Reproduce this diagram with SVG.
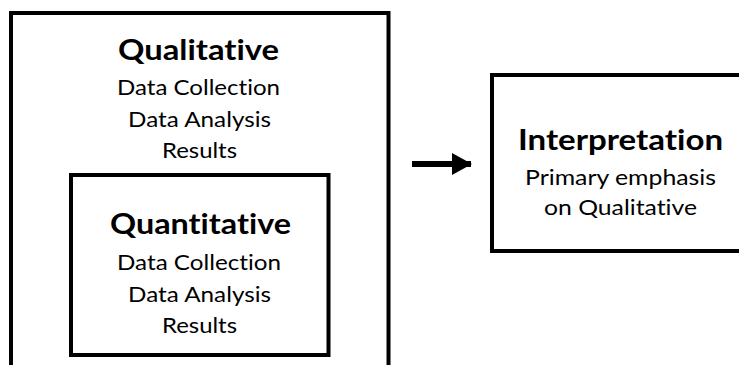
<svg xmlns="http://www.w3.org/2000/svg" width="739" height="365" viewBox="0 0 739 365">
<style>
.box{fill:#fff;stroke:#000;stroke-width:4}
.t{font-family:Lato,"Open Sans","Liberation Sans",sans-serif;fill:#000;text-anchor:middle;font-variant-ligatures:none;font-feature-settings:"liga" 0}
.h{font-size:28px;font-weight:bold}
.b{font-size:21.5px}
</style>
<defs>
<marker id="ah" markerUnits="userSpaceOnUse" markerWidth="20" markerHeight="22" refX="19" refY="11" orient="auto">
<path d="M0,0 L20,11 L0,22 Z" fill="#000"/>
</marker>
</defs>
<rect width="739" height="365" fill="#fff"/>
<g id="qualitative">
<rect class="box" x="11" y="13" width="377.5" height="400" stroke-width="4.5"/>
<text class="t h" x="198.5" y="60" textLength="161" lengthAdjust="spacingAndGlyphs">Qualitative</text>
<text class="t b" x="198.5" y="94.5" textLength="163" lengthAdjust="spacingAndGlyphs">Data Collection</text>
<text class="t b" x="199.5" y="126.5" textLength="143" lengthAdjust="spacingAndGlyphs">Data Analysis</text>
<text class="t b" x="199.5" y="157.5" textLength="75" lengthAdjust="spacingAndGlyphs">Results</text>
</g>
<g id="quantitative">
<rect class="box" x="71" y="175" width="257.5" height="180"/>
<text class="t h" x="200.5" y="234" textLength="181" lengthAdjust="spacingAndGlyphs">Quantitative</text>
<text class="t b" x="199" y="270" textLength="164" lengthAdjust="spacingAndGlyphs">Data Collection</text>
<text class="t b" x="199.5" y="302" textLength="143" lengthAdjust="spacingAndGlyphs">Data Analysis</text>
<text class="t b" x="199.5" y="333" textLength="75" lengthAdjust="spacingAndGlyphs">Results</text>
</g>
<g id="interpretation">
<rect class="box" x="492" y="75" width="300" height="176"/>
<text class="t h" x="620.5" y="150" textLength="205" lengthAdjust="spacingAndGlyphs">Interpretation</text>
<text class="t b" x="620.5" y="185" textLength="191" lengthAdjust="spacingAndGlyphs">Primary emphasis</text>
<text class="t b" x="620.5" y="215" textLength="153" lengthAdjust="spacingAndGlyphs">on Qualitative</text>
</g>
<g id="connectors">
<line x1="412" y1="164" x2="471" y2="164" stroke="#000" stroke-width="6" marker-end="url(#ah)"/>
</g>
</svg>
